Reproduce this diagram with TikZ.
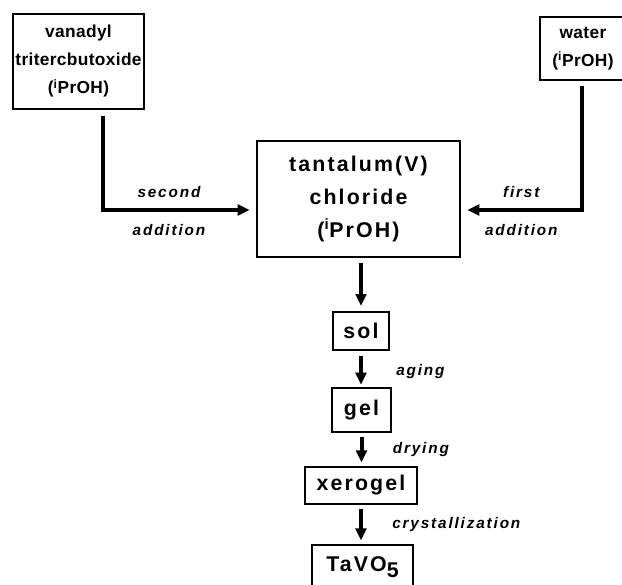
\documentclass[tikz,border=0pt]{standalone}
\usepackage{fontspec}
\setmainfont{Liberation Sans}
\newfontfamily\reagentfont[LetterSpace=2]{Liberation Sans}
\newfontfamily\stagefont[LetterSpace=10]{Liberation Sans}
\newfontfamily\condfont[LetterSpace=12]{Liberation Sans}
\usetikzlibrary{arrows.meta}

\begin{document}
\begin{tikzpicture}[
  x=0.75pt, y=-0.75pt,
  reagent/.style={draw, line width=0.9pt, align=center, inner sep=0pt, font=\reagentfont\bfseries\fontsize{13}{21}\selectfont},
  stage/.style={draw, line width=0.9pt, align=center, inner sep=0pt, font=\stagefont\bfseries\fontsize{16}{25}\selectfont},
  cond/.style={font=\condfont\bfseries\itshape\fontsize{11.5}{12}\selectfont, inner sep=1pt},
  flow/.style={-{Triangle[length=9pt, width=8pt]}, line width=3pt}
]
  \useasboundingbox (0,0) rectangle (622,585);

  % Starting solutions
  \node[reagent, minimum width=98.25pt, minimum height=71.25pt] (vanadyl) at (78.5,61.5) {vanadyl\\tritercbutoxide\\(\textsuperscript{i}PrOH)};
  \node[reagent, minimum width=64.5pt, minimum height=47.25pt] (water) at (583,48.5) {water\\(\textsuperscript{i}PrOH)};
  \node[stage, minimum width=152.25pt, minimum height=87pt] (tantalum) at (358.5,199) {tantalum(V)\\chloride\\(\textsuperscript{i}PrOH)};

  % Process stages
  \node[stage, minimum width=42pt, minimum height=28.5pt] (sol) at (361,331) {sol};
  \node[stage, minimum width=44.25pt, minimum height=33pt] (gel) at (361.5,410) {gel};
  \node[stage, minimum width=84pt, minimum height=27.75pt] (xerogel) at (361,485.5) {xerogel};
  \node[stage, minimum width=75.75pt, minimum height=33pt] (oxide) at (362.5,567) {TaVO\raisebox{-5pt}{5}};

  % Additions
  \coordinate (bendV) at (103,210);
  \coordinate (bendW) at (582,210);
  \draw[flow, shorten <=5pt, shorten >=5pt] (vanadyl.south -| bendV) -- (bendV)
    -- node[cond, pos=0.43, above=7pt] {second} node[cond, pos=0.43, below=8pt] {addition} (tantalum.west |- bendV);
  \draw[flow, shorten <=4pt, shorten >=5pt] (water.south -| bendW) -- (bendW)
    -- node[cond, above=7pt] {first} node[cond, below=8pt] {addition} (tantalum.east |- bendW);

  % Sol-gel route
  \draw[flow, shorten <=4pt, shorten >=4pt] (sol.north |- tantalum.south) -- (sol.north);
  \draw[flow, shorten <=4pt, shorten >=2pt] (sol.south) -- node[cond, right=24pt, yshift=-2pt] {aging} (sol.south |- gel.north);
  \draw[flow, shorten <=3pt, shorten >=3pt] (gel.south) -- node[cond, right=21pt] {drying} (gel.south |- xerogel.north);
  \draw[flow, shorten <=3pt, shorten >=3pt] (xerogel.south) -- node[cond, right=21pt] {crystallization} (xerogel.south |- oxide.north);
\end{tikzpicture}
\end{document}
